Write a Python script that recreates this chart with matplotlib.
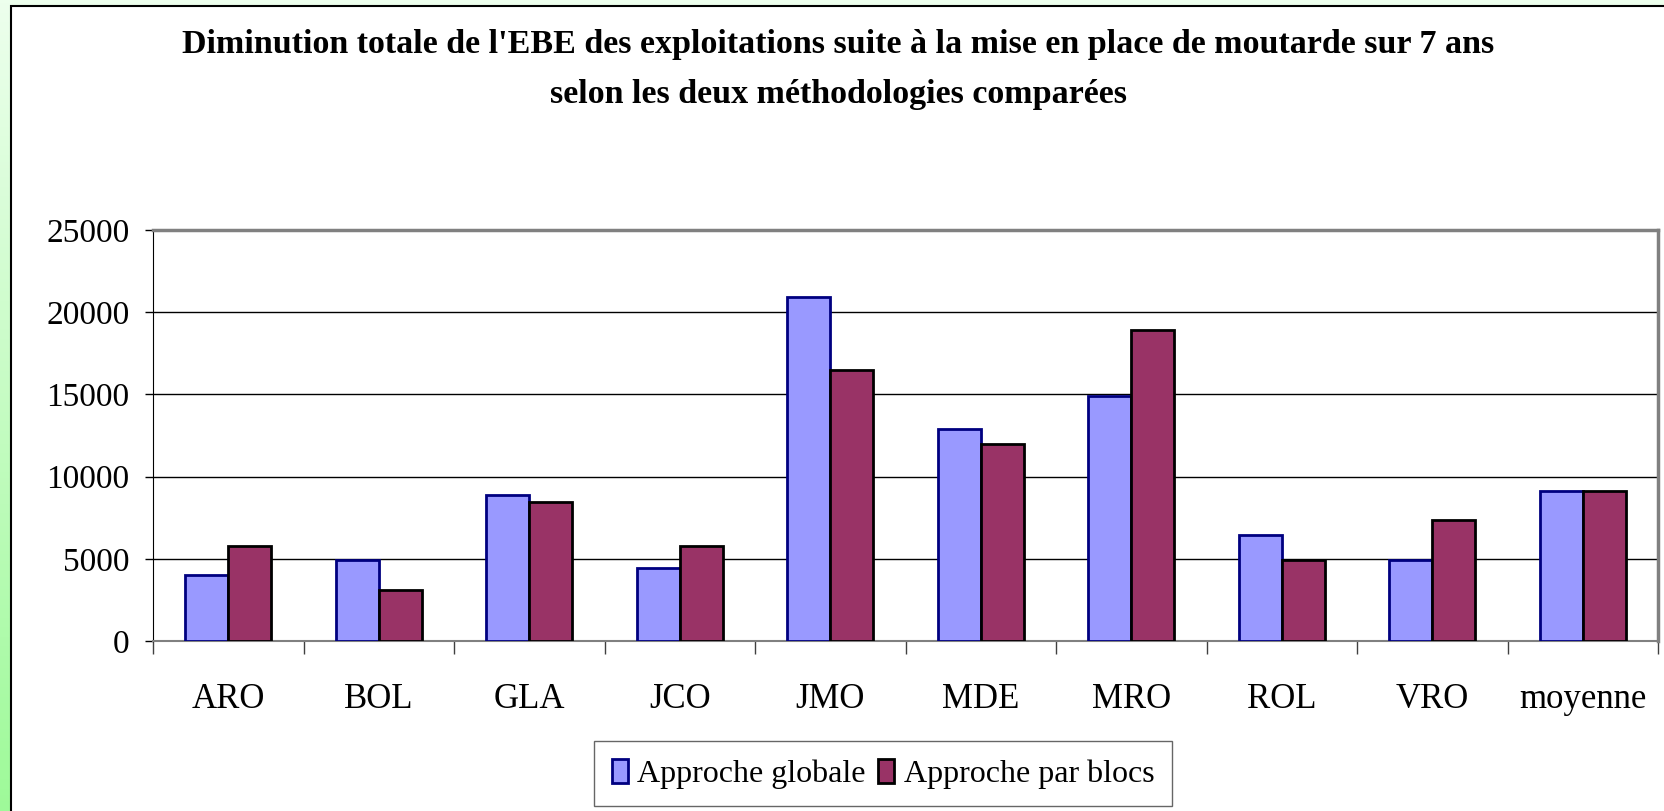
import numpy as np
import matplotlib
matplotlib.use("Agg")
import matplotlib.pyplot as plt
from matplotlib.patches import Rectangle

# donnees
categories = ["ARO", "BOL", "GLA", "JCO", "JMO", "MDE", "MRO", "ROL", "VRO", "moyenne"]
globale = [4000, 4950, 8900, 4450, 20900, 12900, 14900, 6450, 4900, 9150]
blocs = [5800, 3100, 8450, 5800, 16500, 12000, 18900, 4900, 7350, 9150]
yticks = [0, 5000, 10000, 15000, 20000, 25000]

plt.rcParams["font.family"] = ["Liberation Serif", "DejaVu Serif"]

W, H = 1664, 811
fig = plt.figure(figsize=(W / 100, H / 100), dpi=100)

# fond vert degrade + cadre blanc
bg = fig.add_axes([0, 0, 1, 1], zorder=-10)
grad = np.linspace(0, 1, 256)[:, None, None]
top = np.array([0.93, 1.0, 0.93])
bot = np.array([0.62, 0.98, 0.60])
bg.imshow(top + (bot - top) * grad, aspect="auto", extent=[0, 1, 0, 1], origin="upper")
bg.add_patch(Rectangle((11 / W, -0.1), 1.2, 1 - 6 / H + 0.1, facecolor="white",
                       edgecolor="black", linewidth=1.5))
bg.set_xlim(0, 1)
bg.set_ylim(0, 1)
bg.axis("off")

ax = fig.add_axes([153 / W, 1 - 641 / H, (1658 - 153) / W, (641 - 230) / H])
x = np.arange(len(categories))
w = 0.285
b1 = ax.bar(x - w / 2, globale, w, color="#9999FF", edgecolor="#000080", linewidth=2,
            label="Approche globale", zorder=3)
b2 = ax.bar(x + w / 2, blocs, w, color="#993366", edgecolor="black", linewidth=2,
            label="Approche par blocs", zorder=3)

ax.set_xlim(-0.5, len(categories) - 0.5)
ax.set_ylim(0, 25000)
ax.set_yticks(yticks)
ax.set_yticklabels([str(v) for v in yticks], fontsize=24)
ax.set_xticks(x)
ax.set_xticklabels(categories, fontsize=25)
ax.set_xticks(np.arange(-0.5, len(categories)), minor=True)
ax.tick_params(axis="x", which="major", length=0, pad=30)
ax.tick_params(axis="x", which="minor", length=9, width=1, color="#404040", direction="out")
ax.tick_params(axis="y", length=6, width=1, direction="out", pad=11)
ax.yaxis.grid(True, color="black", linewidth=1, zorder=0)
ax.set_axisbelow(True)
for s in ["top", "right"]:
    ax.spines[s].set_color("#808080")
    ax.spines[s].set_linewidth(2.5)
ax.spines["left"].set_color("black")
ax.spines["bottom"].set_color("#808080")
ax.spines["bottom"].set_linewidth(1.5)

fig.text(838 / W, 1 - 44 / H,
         "Diminution totale de l'EBE des exploitations suite à la mise en place de moutarde sur 7 ans",
         ha="center", va="center", fontsize=24.5, fontweight="bold")
fig.text(838 / W, 1 - 95 / H, "selon les deux méthodologies comparées",
         ha="center", va="center", fontsize=24.5, fontweight="bold")

leg = fig.legend(handles=[b1, b2], loc="upper left", bbox_to_anchor=(594 / W, 1 - 741 / H),
                 ncol=2, fontsize=23, frameon=True, fancybox=False, borderpad=0.55,
                 handlelength=0.5, handleheight=0.8, handletextpad=0.3, columnspacing=0.4,
                 borderaxespad=0)
leg.get_frame().set_edgecolor("#404040")
leg.get_frame().set_linewidth(1)

fig.savefig("out.png", dpi=100)
